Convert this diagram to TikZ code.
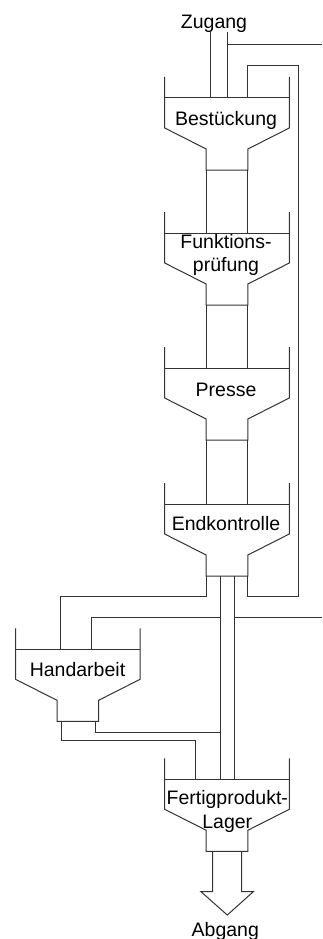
\documentclass[tikz,border=0pt]{standalone}
\usepackage{fontspec}
\setmainfont{Liberation Sans}
\usetikzlibrary{calc}
\begin{document}
\begin{tikzpicture}[x=1pt,y=-1pt,
  ln/.style={draw=black!80, line width=1pt},
  lbl/.style={font=\fontsize{19.5}{23.4}\selectfont, inner sep=0pt, anchor=base, align=center},
  funnel/.pic={
    \draw[ln] (-62.3,0) -- (-62.3,51) -- (-20.8,72) -- (-20.8,93) -- (20.8,93) -- (20.8,72) -- (62.3,51) -- (62.3,0);
    \draw[ln] (-62.3,21) -- (62.3,21);
    \coordinate (-fill) at (0,21);
    \coordinate (-nbl) at (-20.8,93);
    \coordinate (-nbr) at (20.8,93);
  }]
\useasboundingbox (0,0) rectangle (322,939);

% funnels
\pic (f1) at (227,77) {funnel};
\pic (f2) at (227,212) {funnel};
\pic (f3) at (227,347) {funnel};
\pic (f4) at (227,483) {funnel};
\pic (h)  at (77.8,628.3) {funnel};
\pic (f6) at (227,758.3) {funnel};

% labels
\node[lbl] (zug) at (214,28.3) {Zugang};
\node[lbl] (t1) at (226,125.5) {Bestückung};
\node[lbl] (t2) at (226,271.7) {Funktions-\\prüfung};
\node[lbl] (t3) at (226,396.5) {Presse};
\node[lbl] (t4) at (226,530.7) {Endkontrolle};
\node[lbl] (th) at (77.5,676.7) {Handarbeit};
\node[lbl] (t6) at (227.3,828.3) {Fertigprodukt-\\Lager};
\node[lbl] (abg) at (225.3,936.7) {Abgang};

% inputs
\coordinate (zin1) at (210.7,32.5);
\coordinate (zin2) at (227.3,32.5);
\coordinate (rin) at (322,45);
\draw[ln] (zin1) -- (zin1 |- f1-fill);
\draw[ln] (zin2) -- (zin2 |- f1-fill);
\draw[ln] (rin) -- (rin -| zin2);

% connections between main funnels
\foreach \a/\b in {f1/f2, f2/f3, f3/f4}{
  \draw[ln] (\a-nbl) -- (\a-nbl |- \b-fill);
  \draw[ln] (\a-nbr) -- (\a-nbr |- \b-fill);
}

% return loop
\coordinate (loopR) at (298,596.5);
\coordinate (loopT) at (247.7,66);
\draw[ln] (f4-nbr) |- (loopR) |- (loopT) -- (loopT |- f1-fill);

% to Handarbeit
\coordinate (hl) at (60,596.5);
\draw[ln] (f4-nbl) |- (hl) -- (hl |- h-fill);

% central pipe
\coordinate (p1) at (220.8,576);
\coordinate (p2) at (234.2,576);
\draw[ln] (p1) -- (p1 |- f6-fill);
\draw[ln] (p2) -- (p2 |- f6-fill);

% line at 617
\coordinate (hr) at (91.7,617.3);
\coordinate (rout) at (322,617.3);
\draw[ln] (hr |- h-fill) -- (hr) -- (hr -| p1);
\draw[ln] (p2 |- rout) -- (rout);

% Handarbeit outputs
\coordinate (ho1) at (61,740.7);
\coordinate (fin) at (195.7,740.7);
\draw[ln] (ho1 |- h-nbl) -- (ho1) -- (fin) -- (fin |- f6-fill);
\coordinate (ho2) at (95,732.3);
\draw[ln] (ho2 |- h-nbl) -- (ho2) -- (ho2 -| p1);

% output arrow
\draw[ln] (212.7,851.3) -- (212.7,891.7) -- (201,891.7) -- (227.3,915) -- (253.3,891.7) -- (241.7,891.7) -- (241.7,851.3);
\end{tikzpicture}
\end{document}
